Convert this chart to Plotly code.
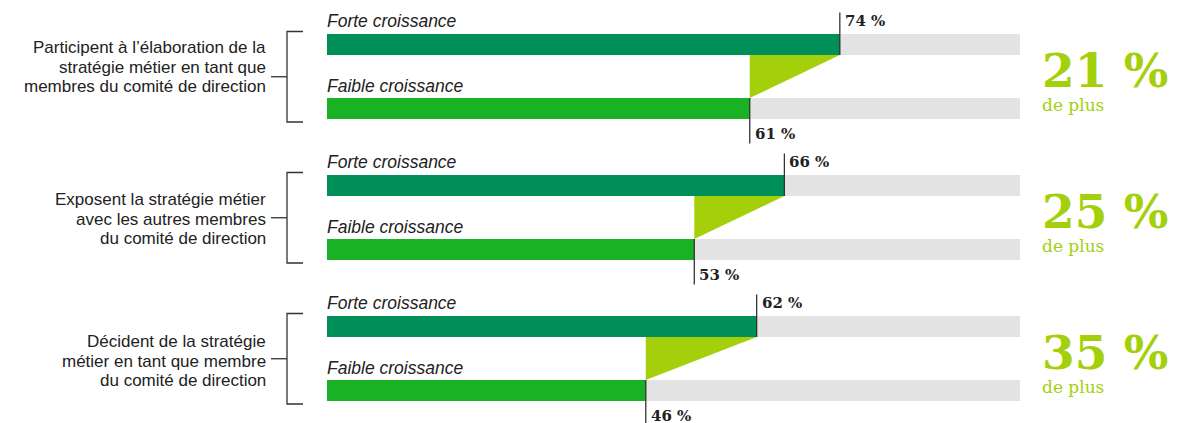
import plotly.graph_objects as go

# ---- data ----
categories = [
    ["Participent à l’élaboration de la", "stratégie métier en tant que", "membres du comité de direction"],
    ["Exposent la stratégie métier", "avec les autres membres", "du comité de direction"],
    ["Décident de la stratégie", "métier en tant que membre", "du comité de direction"],
]
series_names = ["Forte croissance", "Faible croissance"]
forte = [74, 66, 62]
faible = [61, 53, 46]
increase = [21, 25, 35]

# ---- layout constants (pixels) ----
W, H = 1177, 423
X0_PX, X100_PX = 327, 1020
GROUP_TOP = 44.5      # centre of first "forte" bar
GROUP_STEP = 141
PAIR_GAP = 64
BAR_H = 21
LABEL_MID = [22.5, 33.5, 34.5]   # middle label line offset from forte bar centre
LINE_STEP = 19.5

C_FORTE = "#008f57"
C_FAIBLE = "#19b224"
C_TRI = "#a3d00b"
C_GREY = "#e3e3e3"
C_TEXT = "#222222"
SANS = "Liberation Sans, Arial, sans-serif"
SERIF = "DejaVu Serif, serif"

fig = go.Figure()

yf = [GROUP_TOP + i * GROUP_STEP for i in range(len(categories))]
yw = [y + PAIR_GAP for y in yf]

# grey background bars
fig.add_trace(go.Bar(x=[100] * 6, y=yf + yw, orientation="h", width=BAR_H,
                     marker=dict(color=C_GREY, line=dict(width=0)),
                     hoverinfo="skip", showlegend=False))
# value bars
fig.add_trace(go.Bar(x=forte, y=yf, orientation="h", width=BAR_H,
                     marker=dict(color=C_FORTE, line=dict(width=0)),
                     name=series_names[0], showlegend=False))
fig.add_trace(go.Bar(x=faible, y=yw, orientation="h", width=BAR_H,
                     marker=dict(color=C_FAIBLE, line=dict(width=0)),
                     name=series_names[1], showlegend=False))

for i in range(len(categories)):
    f, w = forte[i], faible[i]
    fb = yf[i] + BAR_H / 2   # bottom of forte bar
    wt = yw[i] - BAR_H / 2   # top of faible bar
    # connecting triangle
    fig.add_trace(go.Scatter(x=[w, f, w, w], y=[wt, fb, fb, wt], mode="lines",
                             fill="toself", fillcolor=C_TRI,
                             line=dict(width=0, color=C_TRI),
                             hoverinfo="skip", showlegend=False))
    # marker lines
    fig.add_trace(go.Scatter(x=[f, f], y=[fb, yf[i] - 32], mode="lines",
                             line=dict(color="#333333", width=1.3),
                             hoverinfo="skip", showlegend=False))
    fig.add_trace(go.Scatter(x=[w, w], y=[wt, yw[i] + 35], mode="lines",
                             line=dict(color="#333333", width=1.3),
                             hoverinfo="skip", showlegend=False))
    # value labels
    fig.add_annotation(x=f, y=yf[i] - 24, xref="x", yref="y", text=f"<b>{f} %</b>",
                       showarrow=False, xanchor="left", yanchor="middle", xshift=3,
                       font=dict(family=SERIF, size=15, color=C_TEXT))
    fig.add_annotation(x=w, y=yw[i] + 25, xref="x", yref="y", text=f"<b>{w} %</b>",
                       showarrow=False, xanchor="left", yanchor="middle", xshift=3,
                       font=dict(family=SERIF, size=15, color=C_TEXT))
    # series names
    fig.add_annotation(x=0, y=yf[i] - 24, xref="x", yref="y",
                       text=f"<i>{series_names[0]}</i>", showarrow=False,
                       xanchor="left", yanchor="middle", xshift=-2,
                       font=dict(family=SANS, size=17.5, color=C_TEXT))
    fig.add_annotation(x=0, y=yw[i] - 22.5, xref="x", yref="y",
                       text=f"<i>{series_names[1]}</i>", showarrow=False,
                       xanchor="left", yanchor="middle", xshift=-2,
                       font=dict(family=SANS, size=17.5, color=C_TEXT))
    # bracket
    top = yf[i] - BAR_H / 2 - 2.5
    bot = yw[i] + BAR_H / 2 + 3
    mid = (top + bot) / 2
    bx = 287 / W
    fig.add_shape(type="path", xref="paper", yref="y",
                  path=f"M {303/W} {top} L {bx} {top} L {bx} {bot} L {303/W} {bot}",
                  line=dict(color="#333333", width=1.3))
    fig.add_shape(type="line", xref="paper", yref="y", x0=271 / W, x1=bx,
                  y0=mid, y1=mid, line=dict(color="#333333", width=1.3))
    # category label, one annotation per line
    for j, line in enumerate(categories[i]):
        fig.add_annotation(x=268 / W, y=yf[i] + LABEL_MID[i] + (j - 1) * LINE_STEP,
                           xref="paper", yref="y", text=line,
                           showarrow=False, xanchor="right", yanchor="middle",
                           align="right",
                           font=dict(family=SANS, size=17, color=C_TEXT))
    # big increase
    fig.add_annotation(x=1040 / W, y=yf[i] + 26, xref="paper", yref="y",
                       text=f"<b>{increase[i]} %</b>", showarrow=False,
                       xanchor="left", yanchor="middle",
                       font=dict(family=SERIF, size=47, color=C_TRI))
    fig.add_annotation(x=1040 / W, y=yf[i] + 60, xref="paper", yref="y",
                       text="de plus", showarrow=False,
                       xanchor="left", yanchor="middle",
                       font=dict(family=SERIF, size=17, color=C_TRI))

fig.update_layout(
    width=W, height=H, margin=dict(l=0, r=0, t=0, b=0),
    paper_bgcolor="white", plot_bgcolor="white",
    barmode="overlay", bargap=0,
    xaxis=dict(domain=[X0_PX / W, X100_PX / W], range=[0, 100], visible=False,
               fixedrange=True),
    yaxis=dict(range=[H, 0], visible=False, fixedrange=True),
)

fig.write_html("out.html")
